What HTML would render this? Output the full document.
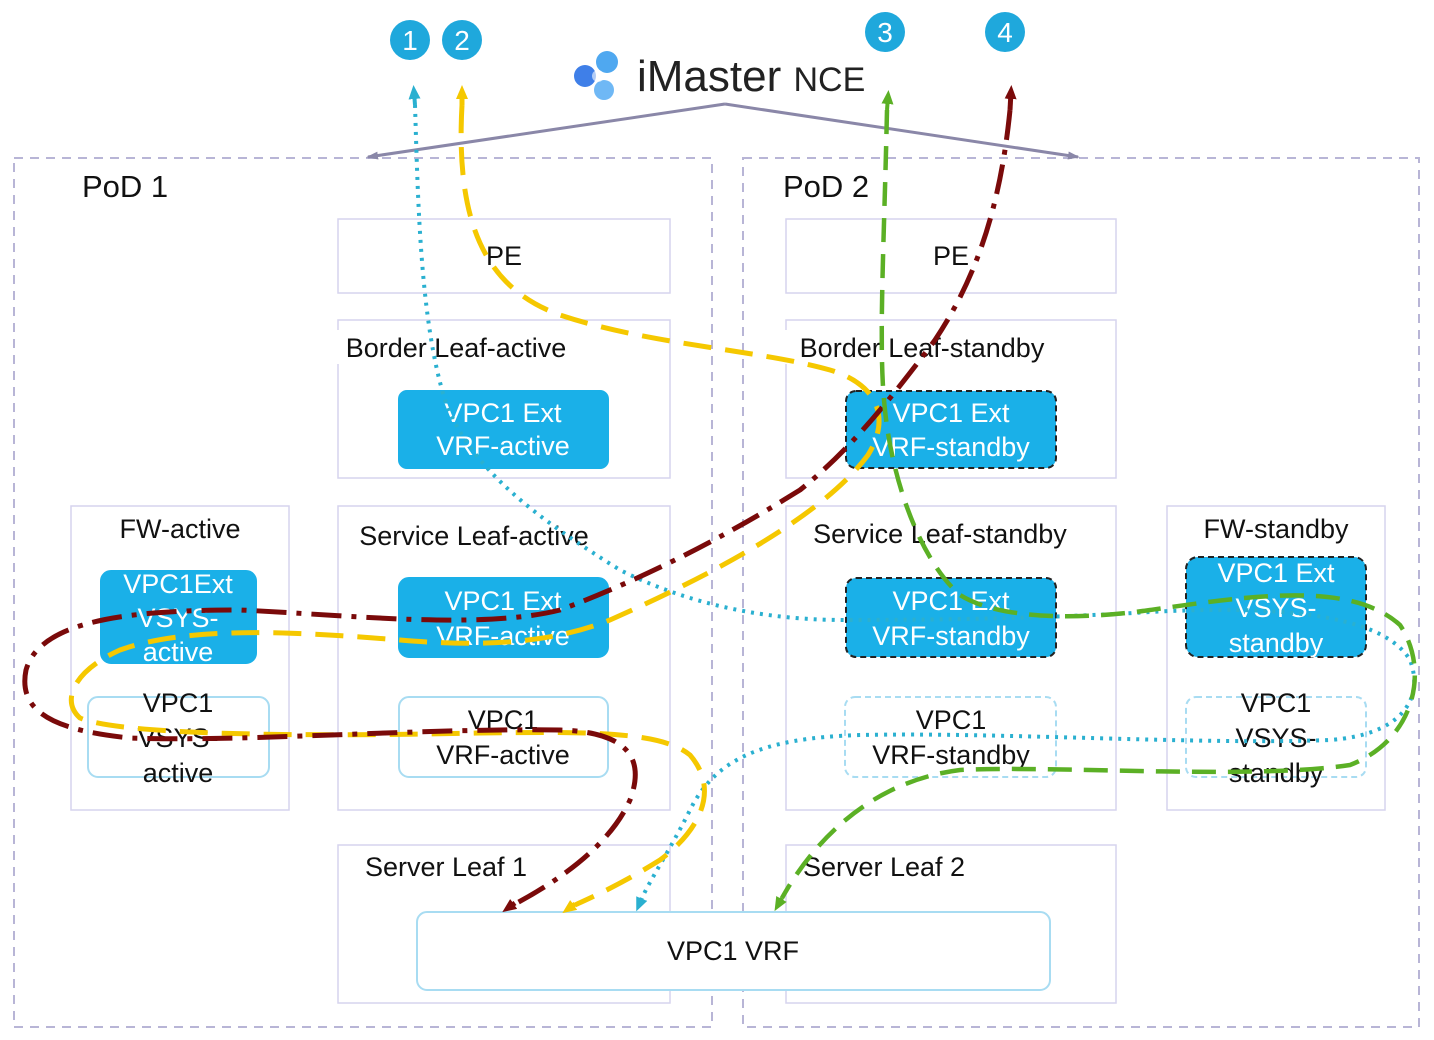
<!DOCTYPE html>
<html><head><meta charset="utf-8"><style>
html,body{margin:0;padding:0;background:#fff;}
svg{display:block;font-family:"Liberation Sans",sans-serif;}
</style></head><body>
<svg width="1434" height="1040" viewBox="0 0 1434 1040" xmlns="http://www.w3.org/2000/svg">
<defs>
<marker id="ag" markerWidth="12" markerHeight="8" refX="10" refY="4" orient="auto" markerUnits="userSpaceOnUse"><path d="M0,0 L12,4 L0,8 z" fill="#8a87a8"/></marker>
<marker id="at" markerWidth="14" markerHeight="14" refX="7" refY="7" orient="auto" markerUnits="userSpaceOnUse"><path d="M0,1 L14,7 L0,13 z" fill="#2ab0d0"/></marker>
<marker id="ay" markerWidth="14" markerHeight="14" refX="7" refY="7" orient="auto" markerUnits="userSpaceOnUse"><path d="M0,1 L14,7 L0,13 z" fill="#f5c800"/></marker>
<marker id="ar" markerWidth="14" markerHeight="14" refX="7" refY="7" orient="auto" markerUnits="userSpaceOnUse"><path d="M0,1 L14,7 L0,13 z" fill="#7a0a0a"/></marker>
<marker id="agr" markerWidth="14" markerHeight="14" refX="7" refY="7" orient="auto" markerUnits="userSpaceOnUse"><path d="M0,1 L14,7 L0,13 z" fill="#5bb025"/></marker>
</defs>

<rect x="14" y="158" width="698" height="869" fill="none" stroke="#b8b5d6" stroke-width="2" stroke-dasharray="9,7"/>
<rect x="743" y="158" width="676" height="869" fill="none" stroke="#b8b5d6" stroke-width="2" stroke-dasharray="9,7"/>
<text x="82" y="197" font-size="31" fill="#111">PoD 1</text>
<text x="783" y="197" font-size="31" fill="#111">PoD 2</text>

<line x1="725" y1="104" x2="368" y2="157" stroke="#8a87a8" stroke-width="3" marker-end="url(#ag)"/>
<line x1="725" y1="104" x2="1078" y2="157" stroke="#8a87a8" stroke-width="3" marker-end="url(#ag)"/>
<g>
<circle cx="585" cy="76" r="11" fill="#3f7fe8"/>
<circle cx="607" cy="62" r="11" fill="#4fa8f0"/>
<circle cx="604" cy="90" r="10" fill="#6fb8f5"/>
<circle cx="598" cy="76" r="6" fill="#fff" opacity="0.6"/>
</g>
<text x="637" y="91" font-size="44" fill="#222">iMaster <tspan font-size="34">NCE</tspan></text>

<g font-size="28" fill="#fff" text-anchor="middle">
<circle cx="410" cy="40" r="20" fill="#1fa8dc"/><text x="410" y="50">1</text>
<circle cx="462" cy="40" r="20" fill="#1fa8dc"/><text x="462" y="50">2</text>
<circle cx="885" cy="32" r="20" fill="#1fa8dc"/><text x="885" y="42">3</text>
<circle cx="1005" cy="32" r="20" fill="#1fa8dc"/><text x="1005" y="42">4</text>
</g>

<g fill="#fff" stroke="#d6d4ee" stroke-width="1.5">
<rect x="338" y="219" width="332" height="74"/>
<rect x="786" y="219" width="330" height="74"/>
<rect x="338" y="320" width="332" height="158"/>
<rect x="786" y="320" width="330" height="158"/>
<rect x="71" y="506" width="218" height="304"/>
<rect x="338" y="506" width="332" height="304"/>
<rect x="786" y="506" width="330" height="304"/>
<rect x="1167" y="506" width="218" height="304"/>
<rect x="338" y="845" width="332" height="158"/>
<rect x="786" y="845" width="330" height="158"/>
</g>

<g stroke-width="2">
<rect x="399" y="391" width="209" height="77" rx="8" fill="#1ab0e8" stroke="#1ab0e8"/>
<rect x="846" y="391" width="210" height="77" rx="10" fill="#1ab0e8" stroke="#222" stroke-dasharray="6,4"/>
<rect x="101" y="571" width="155" height="92" rx="10" fill="#1ab0e8" stroke="#1ab0e8"/>
<rect x="399" y="578" width="209" height="79" rx="10" fill="#1ab0e8" stroke="#1ab0e8"/>
<rect x="846" y="578" width="210" height="79" rx="10" fill="#1ab0e8" stroke="#222" stroke-dasharray="6,4"/>
<rect x="1186" y="557" width="180" height="100" rx="12" fill="#1ab0e8" stroke="#222" stroke-dasharray="6,4"/>
<rect x="88" y="697" width="181" height="80" rx="10" fill="#fff" stroke="#a8dcf2"/>
<rect x="399" y="697" width="209" height="80" rx="10" fill="#fff" stroke="#a8dcf2"/>
<rect x="845" y="697" width="211" height="80" rx="10" fill="#fff" stroke="#a8dcf2" stroke-dasharray="6,4"/>
<rect x="1186" y="697" width="180" height="80" rx="10" fill="#fff" stroke="#a8dcf2" stroke-dasharray="6,4"/>
<rect x="417" y="912" width="633" height="78" rx="10" fill="#fff" stroke="#a8dcf2"/>
</g>

<g font-size="27" fill="#111" text-anchor="middle">
<rect x="480" y="238" width="50" height="34" fill="#fff"/><text x="504" y="265">PE</text>
<rect x="928" y="238" width="50" height="34" fill="#fff"/><text x="951" y="265">PE</text>
<rect x="333" y="330" width="250" height="34" fill="#fff"/><text x="456" y="357">Border  Leaf-active</text>
<rect x="783" y="330" width="280" height="34" fill="#fff"/><text x="922" y="357">Border  Leaf-standby</text>
<text x="180" y="538">FW-active</text>
<rect x="345" y="518" width="260" height="34" fill="#fff"/><text x="474" y="545">Service  Leaf-active</text>
<rect x="795" y="516" width="290" height="34" fill="#fff"/><text x="940" y="543">Service  Leaf-standby</text>
<text x="1276" y="538">FW-standby</text>
<rect x="355" y="850" width="190" height="34" fill="#fff"/><text x="446" y="876">Server  Leaf 1</text>
<rect x="795" y="850" width="190" height="34" fill="#fff"/><text x="884" y="876">Server  Leaf 2</text>
<text x="733" y="960">VPC1 VRF</text>
</g>
<g font-size="27" fill="#fff" text-anchor="middle">
<text x="503" y="422">VPC1 Ext</text><text x="503" y="455">VRF-active</text>
<text x="951" y="422">VPC1 Ext</text><text x="951" y="456">VRF-standby</text>
<text x="178" y="593">VPC1Ext</text><text x="178" y="627">VSYS-</text><text x="178" y="661">active</text>
<text x="503" y="610">VPC1 Ext</text><text x="503" y="645">VRF-active</text>
<text x="951" y="610">VPC1 Ext</text><text x="951" y="645">VRF-standby</text>
<text x="1276" y="582">VPC1 Ext</text><text x="1276" y="617">VSYS-</text><text x="1276" y="652">standby</text>
</g>
<g font-size="27" fill="#111" text-anchor="middle">
<text x="178" y="712">VPC1</text><text x="178" y="747">VSYS-</text><text x="178" y="782">active</text>
<text x="503" y="729">VPC1</text><text x="503" y="764">VRF-active</text>
<text x="951" y="729">VPC1</text><text x="951" y="764">VRF-standby</text>
<text x="1276" y="712">VPC1</text><text x="1276" y="747">VSYS-</text><text x="1276" y="782">standby</text>
</g>

<!-- teal -->
<path d="M415,105 C418,200 420,320 445,400 C470,470 540,520 620,570 C700,610 780,620 845,620 C950,620 1050,618 1150,612 C1260,606 1380,610 1410,660 C1425,700 1400,735 1330,740 C1200,745 1000,732 860,735 C760,738 715,760 690,810 C670,850 650,880 642,898"
 fill="none" stroke="#2ab0d0" stroke-width="4" stroke-dasharray="3,6"/>
<line x1="415" y1="105" x2="414" y2="92" stroke="#2ab0d0" stroke-width="4" marker-end="url(#at)"/>
<line x1="642" y1="898" x2="639" y2="905" stroke="#2ab0d0" stroke-width="4" marker-end="url(#at)"/>
<!-- yellow -->
<path d="M462,105 C455,230 490,290 560,315 C650,345 760,350 830,370 C880,385 890,420 868,455 C820,520 700,580 610,620 C540,648 460,645 400,640 C300,632 190,625 120,650 C75,670 60,700 80,718 C120,735 300,737 480,733 C580,732 660,730 690,755 C720,790 700,830 660,860 C620,885 590,898 575,905"
 fill="none" stroke="#f5c800" stroke-width="5" stroke-dasharray="28,14"/>
<line x1="462" y1="105" x2="462" y2="92" stroke="#f5c800" stroke-width="5" marker-end="url(#ay)"/>
<line x1="575" y1="904" x2="568" y2="909" stroke="#f5c800" stroke-width="5" marker-end="url(#ay)"/>
<!-- red -->
<path d="M1010,110 C1000,210 975,280 935,340 C890,400 850,450 800,490 C720,540 640,580 560,610 C480,630 350,615 240,610 C130,610 40,620 26,670 C18,710 50,730 130,738 C250,742 420,728 560,730 C630,732 645,760 630,800 C610,845 560,880 515,904"
 fill="none" stroke="#7a0a0a" stroke-width="5" stroke-dasharray="30,10,5,10"/>
<line x1="1010" y1="110" x2="1011" y2="92" stroke="#7a0a0a" stroke-width="5" marker-end="url(#ar)"/>
<line x1="515" y1="903" x2="508" y2="908" stroke="#7a0a0a" stroke-width="5" marker-end="url(#ar)"/>
<!-- green -->
<path d="M887,110 C884,250 878,350 885,410 C892,480 920,560 960,595 C1000,620 1080,620 1150,610 C1250,596 1350,580 1400,625 C1430,670 1415,740 1350,765 C1250,780 1050,765 960,770 C880,780 820,830 782,898"
 fill="none" stroke="#5bb025" stroke-width="4.5" stroke-dasharray="24,12"/>
<line x1="887" y1="110" x2="888" y2="97" stroke="#5bb025" stroke-width="4" marker-end="url(#agr)"/>
<line x1="782" y1="898" x2="778" y2="905" stroke="#5bb025" stroke-width="4" marker-end="url(#agr)"/>
</svg>
</body></html>
